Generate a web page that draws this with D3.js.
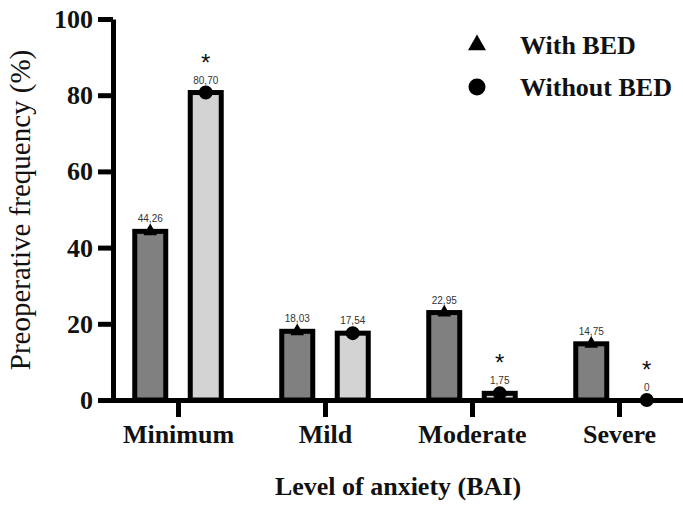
<!DOCTYPE html>
<html>
<head>
<meta charset="utf-8">
<script src="https://cdn.jsdelivr.net/npm/d3@7"></script>
<style>
  html, body { margin: 0; padding: 0; background: #fff; }
  svg { display: block; }
</style>
</head>
<body>
<svg id="chart" width="683" height="506"></svg>
<script>
// ---- data ----
const categories = ["Minimum", "Mild", "Moderate", "Severe"];
const series = ["With BED", "Without BED"];
const withBED = [44.26, 18.03, 22.95, 14.75];
const withoutBED = [80.70, 17.54, 1.75, 0];
const withLabels = ["44,26", "18,03", "22,95", "14,75"];
const withoutLabels = ["80,70", "17,54", "1,75", "0"];
const withoutSignificant = [true, false, true, true];
const yTicks = [0, 20, 40, 60, 80, 100];

const svg = d3.select("#chart");
const serif = "'Liberation Serif', 'Times New Roman', serif";
const sans = "'Liberation Sans', Arial, sans-serif";

const y = d3.scaleLinear().domain([0, 100]).range([400, 19]);
const x = d3.scalePoint().domain(categories).range([104.5, 692.5]).padding(0.5);
const xSub = d3.scaleBand().domain(series).range([-55.5, 55.5]);
const barW = 31;

const fills = { "With BED": "#808080", "Without BED": "#d3d3d3" };
const symbols = { "With BED": d3.symbolTriangle, "Without BED": d3.symbolCircle };

const rows = [];
categories.forEach((c, i) => {
  rows.push({ cat: c, s: "With BED", v: withBED[i], label: withLabels[i], sig: false });
  rows.push({ cat: c, s: "Without BED", v: withoutBED[i], label: withoutLabels[i], sig: withoutSignificant[i] });
});
const cx = d => x(d.cat) + xSub(d.s) + xSub.bandwidth() / 2;

// ---- bars ----
svg.append("g").selectAll("rect").data(rows.filter(d => d.v > 0)).join("rect")
  .attr("x", d => cx(d) - barW / 2)
  .attr("y", d => y(d.v))
  .attr("width", barW)
  .attr("height", d => y(0) - y(d.v))
  .attr("fill", d => fills[d.s])
  .attr("stroke", "#000")
  .attr("stroke-width", 5);

// ---- axes ----
const yAxis = svg.append("g").attr("transform", "translate(113,0)")
  .call(d3.axisLeft(y).tickValues(yTicks).tickSize(15).tickSizeOuter(0).tickPadding(5));
yAxis.selectAll("path, line").attr("stroke", "#000").attr("stroke-width", 5);
yAxis.selectAll("text").attr("font-family", serif).attr("font-weight", "bold")
  .attr("font-size", 26).attr("fill", "#111").attr("dy", "0.33em");

const xAxis = svg.append("g").attr("transform", "translate(0,400)")
  .call(d3.axisBottom(x).tickSize(17).tickSizeOuter(0).tickPadding(26));
xAxis.selectAll("path, line").attr("stroke", "#000").attr("stroke-width", 5);
xAxis.selectAll("text").attr("font-family", serif).attr("font-weight", "bold")
  .attr("font-size", 26).attr("fill", "#111").attr("dy", "0");

// ---- markers ----
svg.append("g").selectAll("path").data(rows).join("path")
  .attr("transform", d => `translate(${cx(d)},${y(d.v)})`)
  .attr("d", d => d3.symbol().type(symbols[d.s]).size(d.s === "With BED" ? 80 : 154)())
  .attr("fill", "#000");

// ---- value labels ----
svg.append("g").selectAll("text").data(rows).join("text")
  .attr("x", d => cx(d))
  .attr("y", d => y(d.v) - 9)
  .attr("text-anchor", "middle")
  .attr("font-family", sans)
  .attr("font-size", 10)
  .attr("fill", "#333")
  .text(d => d.label);

// ---- significance asterisks ----
svg.append("g").selectAll("text").data(rows.filter(d => d.sig)).join("text")
  .attr("x", d => cx(d))
  .attr("y", d => y(d.v) - 22)
  .attr("text-anchor", "middle")
  .attr("font-family", sans)
  .attr("font-size", 24)
  .attr("fill", "#111")
  .text("*");

// ---- axis titles ----
svg.append("text")
  .attr("transform", "translate(30,210) rotate(-90)")
  .attr("text-anchor", "middle")
  .attr("font-family", serif)
  .attr("font-size", 29)
  .attr("fill", "#111")
  .text("Preoperative frequency (%)");

svg.append("text")
  .attr("x", 398)
  .attr("y", 495)
  .attr("text-anchor", "middle")
  .attr("font-family", serif)
  .attr("font-weight", "bold")
  .attr("font-size", 26)
  .attr("fill", "#111")
  .text("Level of anxiety (BAI)");

// ---- legend ----
const legend = svg.append("g").selectAll("g").data(series).join("g")
  .attr("transform", (d, i) => `translate(477,${45 + i * 42})`);
legend.append("path")
  .attr("d", d => d3.symbol().type(symbols[d]).size(d === "With BED" ? 140 : 227)())
  .attr("fill", "#000");
legend.append("text")
  .attr("x", 43)
  .attr("y", 0)
  .attr("dy", "0.33em")
  .attr("font-family", serif)
  .attr("font-weight", "bold")
  .attr("font-size", 26)
  .attr("fill", "#111")
  .text(d => d);
</script>
</body>
</html>
